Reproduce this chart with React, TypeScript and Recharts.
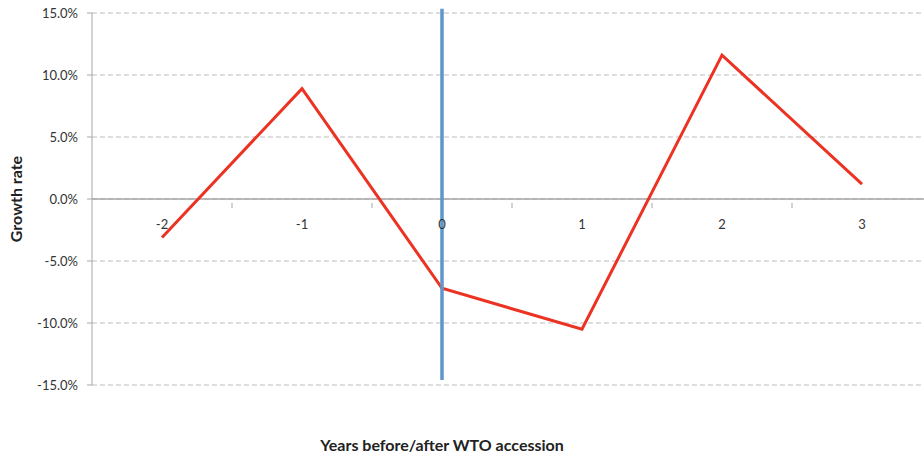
import { LineChart, Line, XAxis, YAxis, CartesianGrid, ReferenceLine } from "recharts";

const years = ["-2", "-1", "0", "1", "2", "3"];
const growth = [-3.1, 8.9, -7.2, -10.5, 11.6, 1.2];
const yTicks = [-15, -10, -5, 0, 5, 10, 15];

const data = years.map((year, i) => ({ year, growth: growth[i] }));

const W = 940;
const H = 457;
const TOP = 13;
const BOTTOM = 72;
const PLOT_H = H - TOP - BOTTOM;
const BAND = (W - 92 - 8) / years.length;
const FONT = "Lato, 'Open Sans', sans-serif";

// x ticks are drawn on the zero line, not at the bottom of the plot
const ZeroTick = (props: any) => {
  const { x, y, payload } = props;
  const zeroY = y - PLOT_H / 2 - 4;
  return (
    <g>
      <line x1={x + BAND / 2} x2={x + BAND / 2} y1={zeroY} y2={zeroY + 5} stroke="#a6a6a6" />
      <text x={x} y={zeroY + 26} textAnchor="middle" fontSize={13} fill="#333" fontFamily={FONT}>
        {payload.value}
      </text>
    </g>
  );
};

const App = () => (
  <div style={{ position: "absolute", left: 0, top: 0, width: 924, height: H, overflow: "hidden" }}>
    <LineChart width={W} height={H} data={data} margin={{ top: TOP, right: 8, left: 32, bottom: 42 }}>
      <CartesianGrid vertical={false} stroke="#bdbdbd" strokeDasharray="5 3" />
      <XAxis
        dataKey="year"
        axisLine={false}
        tickLine={false}
        tick={<ZeroTick />}
        padding={{ left: BAND / 2, right: BAND / 2 }}
        height={30}
        label={{
          value: "Years before/after WTO accession",
          position: "insideBottom",
          offset: -36,
          dx: -70,
          style: { fontWeight: 700, fontSize: 16, fill: "#222", fontFamily: FONT },
        }}
      />
      <YAxis
        domain={[-15, 15]}
        ticks={yTicks}
        width={60}
        interval={0}
        tickFormatter={(v: number) => `${v.toFixed(1)}%`}
        tick={{ fontSize: 13, fill: "#333", fontFamily: FONT }}
        stroke="#a6a6a6"
        tickSize={5}
        tickMargin={9}
        label={{
          value: "Growth rate",
          angle: -90,
          position: "insideLeft",
          offset: -16,
          style: { textAnchor: "middle", fontWeight: 700, fontSize: 16, fill: "#222", fontFamily: FONT },
        }}
      />
      <ReferenceLine y={0} stroke="#a6a6a6" strokeWidth={1.5} />
      <Line
        dataKey="growth"
        stroke="#ec3323"
        strokeWidth={3}
        dot={false}
        isAnimationActive={false}
      />
      <ReferenceLine
        segment={[
          { x: "0", y: 15.35 },
          { x: "0", y: -14.6 },
        ]}
        stroke="#5f96cc"
        strokeWidth={3.5}
        ifOverflow="visible"
      />
    </LineChart>
  </div>
);

export default App;
